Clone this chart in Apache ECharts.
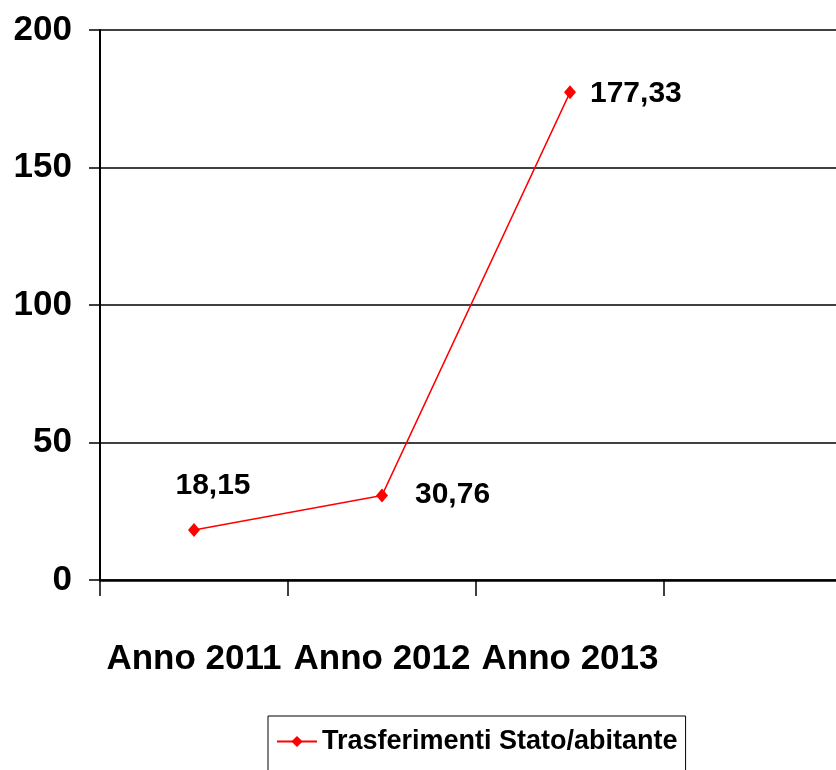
<!DOCTYPE html>
<html>
<head>
<meta charset="utf-8">
<script src="https://cdn.jsdelivr.net/npm/echarts@6/dist/echarts.min.js"></script>
<style>
  html, body { margin: 0; padding: 0; background: #fff; overflow: hidden; }
  /* the plot area runs past the right edge of the window, as in the original */
  #chart { width: 852px; height: 770px; }
</style>
</head>
<body>
<div id="chart"></div>
<script>
// categories (the 4th slot is empty in the original plot)
const categories = ["Anno 2011", "Anno 2012", "Anno 2013", ""];
const trasferimenti = [18.15, 30.76, 177.33];
const seriesName = "Trasferimenti Stato/abitante";
const yTicks = { min: 0, max: 200, interval: 50 };

const font = "'Liberation Sans Narrow', 'Arial Narrow', 'Liberation Sans', sans-serif";
const fmt = v => v.toFixed(2).replace(".", ",");

let myChart = echarts.init(document.getElementById("chart"));

const labelCfg = [
    { position: "top", distance: 22, offset: [19, 0] },
    { position: "right", distance: 27, offset: [0, -1] },
    { position: "right", distance: 14, offset: [0, 1] }
];

myChart.setOption({
    animation: false,
    grid: { left: 100, right: 0, top: 30, bottom: 190 },
    xAxis: {
        type: "category",
        data: categories,
        boundaryGap: true,
        axisLine: { lineStyle: { color: "#000", width: 2.5 } },
        axisTick: { show: true, interval: 0, length: 16, lineStyle: { color: "#000", width: 1.5 } },
        axisLabel: {
            interval: 0,
            color: "#000", fontFamily: font, fontWeight: "bold",
            fontSize: 35, margin: 62
        }
    },
    yAxis: {
        type: "value",
        min: yTicks.min, max: yTicks.max, interval: yTicks.interval,
        axisLine: { show: true, lineStyle: { color: "#000", width: 2 } },
        axisTick: { show: true, length: 11, lineStyle: { color: "#000", width: 1.5 } },
        splitLine: { lineStyle: { color: "#000", width: 1.5 } },
        axisLabel: {
            color: "#000", fontFamily: font, fontWeight: "bold",
            fontSize: 35, margin: 28
        }
    },
    legend: {
        left: 268, top: 716,
        data: [seriesName],
        borderColor: "#000", borderWidth: 1,
        padding: [12, 8, 40, 8],
        itemWidth: 40, itemHeight: 14,
        textStyle: { color: "#000", fontFamily: font, fontWeight: "bold", fontSize: 27 }
    },
    series: [{
        name: seriesName,
        type: "line",
        data: trasferimenti.map((v, i) => ({
            value: v,
            label: {
                show: true,
                position: labelCfg[i].position,
                distance: labelCfg[i].distance,
                offset: labelCfg[i].offset
            }
        })),
        symbol: "diamond",
        symbolSize: [12, 14],
        color: "#ff0000",
        lineStyle: { color: "#ff0000", width: 1.5 },
        itemStyle: { color: "#ff0000" },
        label: {
            formatter: p => fmt(p.value),
            color: "#000", fontFamily: font, fontWeight: "bold", fontSize: 30
        }
    }]
});
</script>
</body>
</html>
